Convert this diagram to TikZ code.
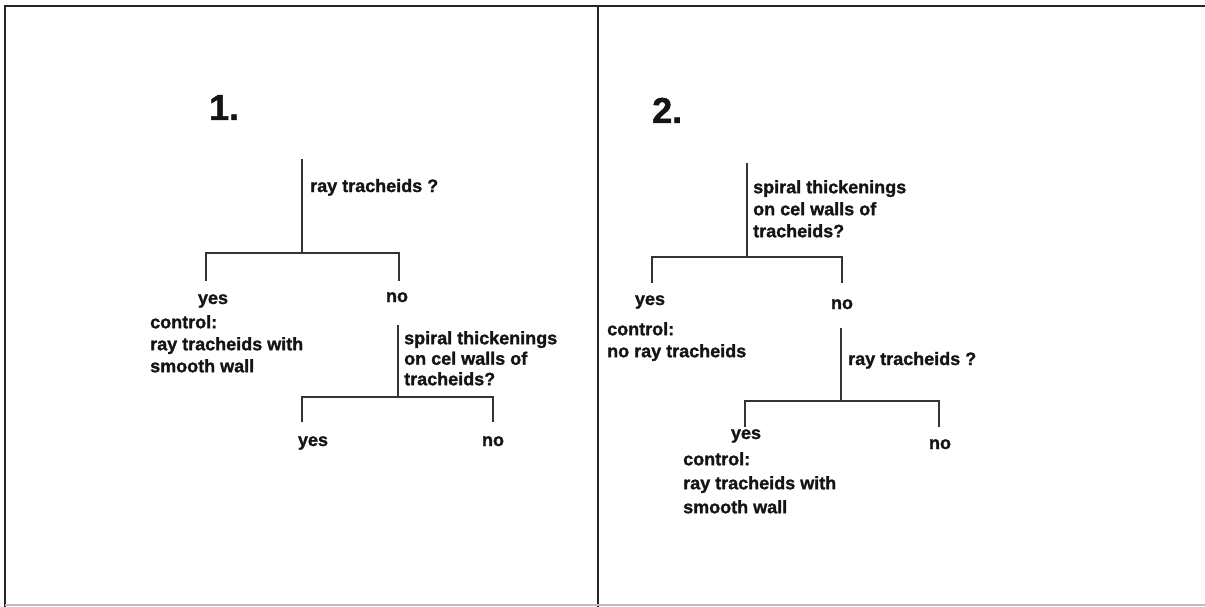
\documentclass[tikz,border=0pt]{standalone}
\usepackage{fontspec}
\setmainfont{Liberation Sans}[BoldFeatures={FakeBold=1.3}]
\begin{document}
\begin{tikzpicture}[x=1pt,y=-1pt,
  lbl/.style={font=\fontsize{18}{22}\selectfont\bfseries, inner sep=0pt, text=black!92},
  word/.style={lbl, anchor=base},
  blk/.style={lbl, align=left, anchor=north west},
  num/.style={font=\fontsize{36}{40}\selectfont\bfseries, inner sep=0pt, anchor=base west, text=black!92},
  branch/.style={draw=black!80, line width=1.8pt},
  frame/.style={draw=black!85, line width=2.6pt}]

\useasboundingbox (0,0) rectangle (1205,607);

% outer frame and divider
\coordinate (fTL) at (5,6);
\coordinate (fTR) at (1205,6);
\coordinate (fBL) at (5,607);
\coordinate (dT)  at (598,6);
\coordinate (dB)  at (598,607);
\coordinate (bL)  at (5,605);
\coordinate (bR)  at (1205,605);
\draw[frame] (fBL) -- (fTL) -- (fTR);
\draw[draw=black!85, line width=2pt] (dT) -- (dB);
\draw[draw=black!25, line width=1.5pt] (bL) -- (bR);

% ---------------- key 1 ----------------
\node[num] (t1) at (209,120) {1.};

\coordinate (a1top) at (302,159);
\coordinate (a1j)   at (302,253);
\coordinate (a1lt)  at (206,253);
\coordinate (a1rt)  at (399,253);
\coordinate (a1lb)  at (206,281);
\coordinate (a1rb)  at (399,281);
\draw[branch] (a1top) -- (a1j);
\draw[branch] (a1lb) -- (a1lt) -- (a1rt) -- (a1rb);
\node[lbl, anchor=base west] (a1q) at (310,192) {ray tracheids ?};

\node[word] (a1y) at (213,304) {yes};
\node[word] (a1n) at (397,302) {no};
\node[blk] (a1c) at (150,315) {control:\\ray tracheids with\\smooth wall};

\coordinate (a2top) at (398,325);
\coordinate (a2j)   at (398,397);
\coordinate (a2lt)  at (302,397);
\coordinate (a2rt)  at (493,397);
\coordinate (a2lb)  at (302,422);
\coordinate (a2rb)  at (493,422);
\draw[branch] (a2top) -- (a2j);
\draw[branch] (a2lb) -- (a2lt) -- (a2rt) -- (a2rb);
\node[blk, font=\fontsize{18}{20.5}\selectfont\bfseries] (a2q) at (404,331)
  {spiral thickenings\\on cel walls of\\tracheids?};

\node[word] (a2y) at (313,446) {yes};
\node[word] (a2n) at (493,446) {no};

% ---------------- key 2 ----------------
\node[num] (t2) at (652,123) {2.};

\coordinate (b1top) at (747,163);
\coordinate (b1j)   at (747,257);
\coordinate (b1lt)  at (652,257);
\coordinate (b1rt)  at (842,257);
\coordinate (b1lb)  at (652,283);
\coordinate (b1rb)  at (842,283);
\draw[branch] (b1top) -- (b1j);
\draw[branch] (b1lb) -- (b1lt) -- (b1rt) -- (b1rb);
\node[blk] (b1q) at (753,180) {spiral thickenings\\on cel walls of\\tracheids?};

\node[word] (b1y) at (650,305) {yes};
\node[word] (b1n) at (842,309) {no};
\node[blk] (b1c) at (607,322) {control:\\no ray tracheids};

\coordinate (b2top) at (841,328);
\coordinate (b2j)   at (841,401);
\coordinate (b2lt)  at (745,401);
\coordinate (b2rt)  at (939,401);
\coordinate (b2lb)  at (745,427);
\coordinate (b2rb)  at (939,427);
\draw[branch] (b2top) -- (b2j);
\draw[branch] (b2lb) -- (b2lt) -- (b2rt) -- (b2rb);
\node[lbl, anchor=base west] (b2q) at (848,365) {ray tracheids ?};

\node[word] (b2y) at (746,439) {yes};
\node[word] (b2n) at (940,449) {no};
\node[blk, font=\fontsize{18}{24}\selectfont\bfseries] (b2c) at (683,452)
  {control:\\ray tracheids with\\smooth wall};

\end{tikzpicture}
\end{document}
